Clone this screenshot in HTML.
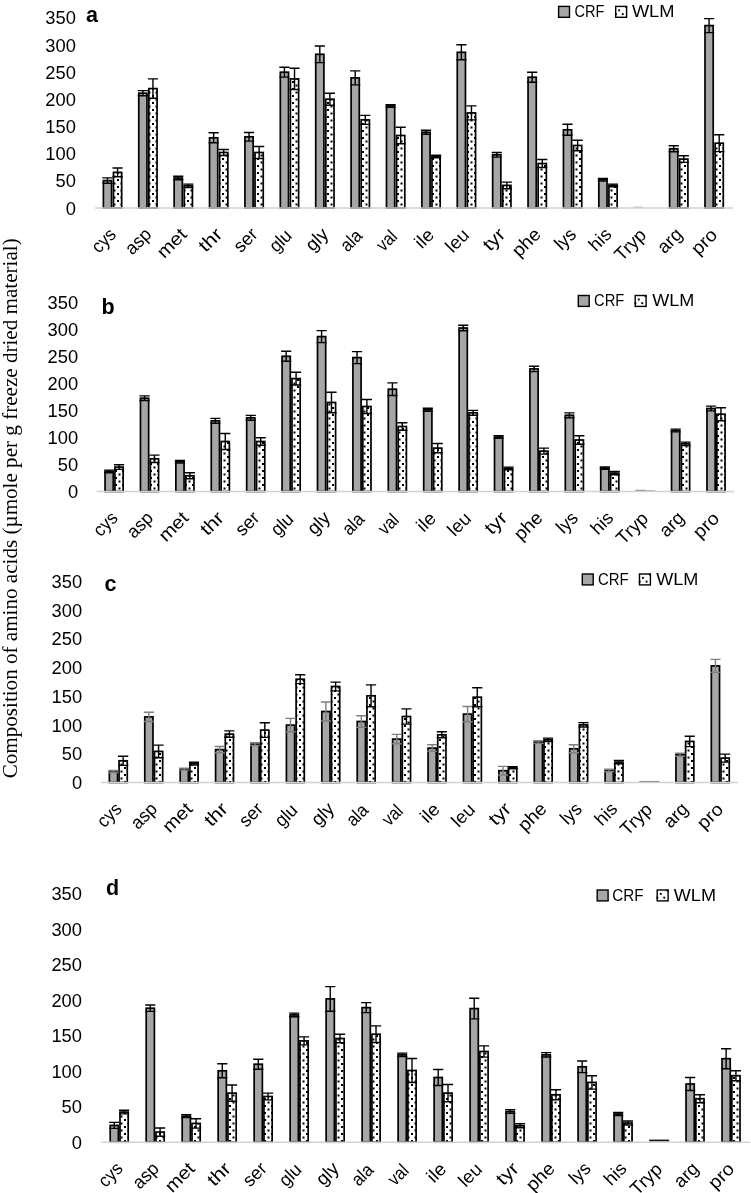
<!DOCTYPE html>
<html><head><meta charset="utf-8"><title>Amino acid composition</title>
<style>
html,body{margin:0;padding:0;background:#fff;}
svg{display:block;font-family:"Liberation Sans",sans-serif;fill:#000;}
svg{will-change:transform;filter:grayscale(1);}
</style></head><body>
<svg width="751" height="1193" viewBox="0 0 751 1193">
<defs>
<pattern id="dp-a" patternUnits="userSpaceOnUse" x="4" y="3" width="7" height="7"><rect width="7" height="7" fill="#fff"/><rect x="1" y="1" width="2" height="2" fill="#000"/><rect x="4.5" y="4.5" width="2" height="2" fill="#000"/></pattern>
<pattern id="dp-b" patternUnits="userSpaceOnUse" x="2" y="0" width="7" height="7"><rect width="7" height="7" fill="#fff"/><rect x="1" y="1" width="2" height="2" fill="#000"/><rect x="4.5" y="4.5" width="2" height="2" fill="#000"/></pattern>
<pattern id="dp-c" patternUnits="userSpaceOnUse" x="4" y="3" width="7" height="7"><rect width="7" height="7" fill="#fff"/><rect x="1" y="1" width="2" height="2" fill="#000"/><rect x="4.5" y="4.5" width="2" height="2" fill="#000"/></pattern>
<pattern id="dp-d" patternUnits="userSpaceOnUse" x="4" y="-2" width="7" height="7"><rect width="7" height="7" fill="#fff"/><rect x="1" y="1" width="2" height="2" fill="#000"/><rect x="4.5" y="4.5" width="2" height="2" fill="#000"/></pattern>
</defs>
<rect width="751" height="1193" fill="#fff"/>
<g id="panel-a"><text x="75.9" y="214.6" text-anchor="end" font-size="18.4" textLength="10.2" lengthAdjust="spacingAndGlyphs">0</text>
<text x="75.9" y="187.4" text-anchor="end" font-size="18.4" textLength="20.4" lengthAdjust="spacingAndGlyphs">50</text>
<text x="75.9" y="160.3" text-anchor="end" font-size="18.4" textLength="30.6" lengthAdjust="spacingAndGlyphs">100</text>
<text x="75.9" y="133.1" text-anchor="end" font-size="18.4" textLength="30.6" lengthAdjust="spacingAndGlyphs">150</text>
<text x="75.9" y="105.9" text-anchor="end" font-size="18.4" textLength="30.6" lengthAdjust="spacingAndGlyphs">200</text>
<text x="75.9" y="78.7" text-anchor="end" font-size="18.4" textLength="30.6" lengthAdjust="spacingAndGlyphs">250</text>
<text x="75.9" y="51.6" text-anchor="end" font-size="18.4" textLength="30.6" lengthAdjust="spacingAndGlyphs">300</text>
<text x="75.9" y="24.4" text-anchor="end" font-size="18.4" textLength="30.6" lengthAdjust="spacingAndGlyphs">350</text>
<text x="86.0" y="21.8" font-size="21.5" font-weight="bold">a</text>
<rect x="558.6" y="6.4" width="10.9" height="10.9" fill="#a6a6a6" stroke="#000" stroke-width="1.4"/>
<text x="574.5" y="17.2" font-size="17.3" textLength="29.9" lengthAdjust="spacingAndGlyphs">CRF</text>
<rect x="615.7" y="6.4" width="10.9" height="10.9" fill="#fff" stroke="#000" stroke-width="1.4"/>
<g fill="#000"><rect x="618.2" y="9.4" width="1.9" height="1.9"/><rect x="621.8" y="13.2" width="1.9" height="1.9"/><rect x="625.1" y="6.0" width="1.9" height="1.9"/><rect x="614.9" y="13.2" width="1.9" height="1.9"/></g>
<text x="631.9" y="17.2" font-size="17.3" textLength="42.6" lengthAdjust="spacingAndGlyphs">WLM</text>
<rect x="103.37" y="180.60" width="8.2" height="27.40" fill="#a6a6a6" stroke="#000" stroke-width="1.7"/>
<rect x="113.47" y="172.40" width="8.2" height="35.60" fill="url(#dp-a)" stroke="#000" stroke-width="1.7"/>
<path d="M107.47 177.90V183.30M102.37 177.90h10.2M102.37 183.30h10.2" stroke="#000" stroke-width="1.4" fill="none"/>
<path d="M117.57 168.00V176.80M112.47 168.00h10.2M112.47 176.80h10.2" stroke="#000" stroke-width="1.4" fill="none"/>
<rect x="138.76" y="93.20" width="8.2" height="114.80" fill="#a6a6a6" stroke="#000" stroke-width="1.7"/>
<rect x="148.86" y="88.60" width="8.2" height="119.40" fill="url(#dp-a)" stroke="#000" stroke-width="1.7"/>
<path d="M142.86 90.60V95.80M137.76 90.60h10.2M137.76 95.80h10.2" stroke="#000" stroke-width="1.4" fill="none"/>
<path d="M152.96 78.90V98.30M147.86 78.90h10.2M147.86 98.30h10.2" stroke="#000" stroke-width="1.4" fill="none"/>
<rect x="174.15" y="178.00" width="8.2" height="30.00" fill="#a6a6a6" stroke="#000" stroke-width="1.7"/>
<rect x="184.25" y="185.80" width="8.2" height="22.20" fill="url(#dp-a)" stroke="#000" stroke-width="1.7"/>
<path d="M178.25 176.30V179.70M173.15 176.30h10.2M173.15 179.70h10.2" stroke="#000" stroke-width="1.4" fill="none"/>
<path d="M188.35 184.10V187.50M183.25 184.10h10.2M183.25 187.50h10.2" stroke="#000" stroke-width="1.4" fill="none"/>
<rect x="209.54" y="137.80" width="8.2" height="70.20" fill="#a6a6a6" stroke="#000" stroke-width="1.7"/>
<rect x="219.64" y="152.50" width="8.2" height="55.50" fill="url(#dp-a)" stroke="#000" stroke-width="1.7"/>
<path d="M213.64 132.80V142.80M208.54 132.80h10.2M208.54 142.80h10.2" stroke="#000" stroke-width="1.4" fill="none"/>
<path d="M223.74 149.50V155.50M218.64 149.50h10.2M218.64 155.50h10.2" stroke="#000" stroke-width="1.4" fill="none"/>
<rect x="244.93" y="136.80" width="8.2" height="71.20" fill="#a6a6a6" stroke="#000" stroke-width="1.7"/>
<rect x="255.03" y="152.50" width="8.2" height="55.50" fill="url(#dp-a)" stroke="#000" stroke-width="1.7"/>
<path d="M249.03 132.50V141.10M243.93 132.50h10.2M243.93 141.10h10.2" stroke="#000" stroke-width="1.4" fill="none"/>
<path d="M259.13 146.50V158.50M254.03 146.50h10.2M254.03 158.50h10.2" stroke="#000" stroke-width="1.4" fill="none"/>
<rect x="280.32" y="72.20" width="8.2" height="135.80" fill="#a6a6a6" stroke="#000" stroke-width="1.7"/>
<rect x="290.42" y="78.90" width="8.2" height="129.10" fill="url(#dp-a)" stroke="#000" stroke-width="1.7"/>
<path d="M284.42 67.30V77.10M279.32 67.30h10.2M279.32 77.10h10.2" stroke="#000" stroke-width="1.4" fill="none"/>
<path d="M294.52 68.30V89.50M289.42 68.30h10.2M289.42 89.50h10.2" stroke="#000" stroke-width="1.4" fill="none"/>
<rect x="315.71" y="54.30" width="8.2" height="153.70" fill="#a6a6a6" stroke="#000" stroke-width="1.7"/>
<rect x="325.81" y="99.20" width="8.2" height="108.80" fill="url(#dp-a)" stroke="#000" stroke-width="1.7"/>
<path d="M319.81 46.00V62.60M314.71 46.00h10.2M314.71 62.60h10.2" stroke="#000" stroke-width="1.4" fill="none"/>
<path d="M329.91 93.20V105.20M324.81 93.20h10.2M324.81 105.20h10.2" stroke="#000" stroke-width="1.4" fill="none"/>
<rect x="351.10" y="77.90" width="8.2" height="130.10" fill="#a6a6a6" stroke="#000" stroke-width="1.7"/>
<rect x="361.20" y="119.90" width="8.2" height="88.10" fill="url(#dp-a)" stroke="#000" stroke-width="1.7"/>
<path d="M355.20 70.90V84.90M350.10 70.90h10.2M350.10 84.90h10.2" stroke="#000" stroke-width="1.4" fill="none"/>
<path d="M365.30 115.40V124.40M360.20 115.40h10.2M360.20 124.40h10.2" stroke="#000" stroke-width="1.4" fill="none"/>
<rect x="386.49" y="105.90" width="8.2" height="102.10" fill="#a6a6a6" stroke="#000" stroke-width="1.7"/>
<rect x="396.59" y="135.50" width="8.2" height="72.50" fill="url(#dp-a)" stroke="#000" stroke-width="1.7"/>
<path d="M390.59 104.60V107.20M385.49 104.60h10.2M385.49 107.20h10.2" stroke="#000" stroke-width="1.4" fill="none"/>
<path d="M400.69 127.20V143.80M395.59 127.20h10.2M395.59 143.80h10.2" stroke="#000" stroke-width="1.4" fill="none"/>
<rect x="421.88" y="132.20" width="8.2" height="75.80" fill="#a6a6a6" stroke="#000" stroke-width="1.7"/>
<rect x="431.98" y="156.50" width="8.2" height="51.50" fill="url(#dp-a)" stroke="#000" stroke-width="1.7"/>
<path d="M425.98 130.20V134.20M420.88 130.20h10.2M420.88 134.20h10.2" stroke="#000" stroke-width="1.4" fill="none"/>
<path d="M436.08 155.20V157.80M430.98 155.20h10.2M430.98 157.80h10.2" stroke="#000" stroke-width="1.4" fill="none"/>
<rect x="457.27" y="52.30" width="8.2" height="155.70" fill="#a6a6a6" stroke="#000" stroke-width="1.7"/>
<rect x="467.37" y="112.90" width="8.2" height="95.10" fill="url(#dp-a)" stroke="#000" stroke-width="1.7"/>
<path d="M461.37 44.80V59.80M456.27 44.80h10.2M456.27 59.80h10.2" stroke="#000" stroke-width="1.4" fill="none"/>
<path d="M471.47 105.90V119.90M466.37 105.90h10.2M466.37 119.90h10.2" stroke="#000" stroke-width="1.4" fill="none"/>
<rect x="492.66" y="154.80" width="8.2" height="53.20" fill="#a6a6a6" stroke="#000" stroke-width="1.7"/>
<rect x="502.76" y="185.40" width="8.2" height="22.60" fill="url(#dp-a)" stroke="#000" stroke-width="1.7"/>
<path d="M496.76 152.50V157.10M491.66 152.50h10.2M491.66 157.10h10.2" stroke="#000" stroke-width="1.4" fill="none"/>
<path d="M506.86 182.10V188.70M501.76 182.10h10.2M501.76 188.70h10.2" stroke="#000" stroke-width="1.4" fill="none"/>
<rect x="528.05" y="77.20" width="8.2" height="130.80" fill="#a6a6a6" stroke="#000" stroke-width="1.7"/>
<rect x="538.15" y="163.50" width="8.2" height="44.50" fill="url(#dp-a)" stroke="#000" stroke-width="1.7"/>
<path d="M532.15 72.20V82.20M527.05 72.20h10.2M527.05 82.20h10.2" stroke="#000" stroke-width="1.4" fill="none"/>
<path d="M542.25 159.50V167.50M537.15 159.50h10.2M537.15 167.50h10.2" stroke="#000" stroke-width="1.4" fill="none"/>
<rect x="563.44" y="129.80" width="8.2" height="78.20" fill="#a6a6a6" stroke="#000" stroke-width="1.7"/>
<rect x="573.54" y="145.50" width="8.2" height="62.50" fill="url(#dp-a)" stroke="#000" stroke-width="1.7"/>
<path d="M567.54 124.30V135.30M562.44 124.30h10.2M562.44 135.30h10.2" stroke="#000" stroke-width="1.4" fill="none"/>
<path d="M577.64 140.20V150.80M572.54 140.20h10.2M572.54 150.80h10.2" stroke="#000" stroke-width="1.4" fill="none"/>
<rect x="598.83" y="179.80" width="8.2" height="28.20" fill="#a6a6a6" stroke="#000" stroke-width="1.7"/>
<rect x="608.93" y="185.40" width="8.2" height="22.60" fill="url(#dp-a)" stroke="#000" stroke-width="1.7"/>
<path d="M602.93 178.50V181.10M597.83 178.50h10.2M597.83 181.10h10.2" stroke="#000" stroke-width="1.4" fill="none"/>
<path d="M613.03 184.10V186.70M607.93 184.10h10.2M607.93 186.70h10.2" stroke="#000" stroke-width="1.4" fill="none"/>
<line x1="633.4" x2="643.1" y1="207.2" y2="207.2" stroke="#9a9a9a" stroke-width="0.9"/>
<rect x="669.61" y="148.80" width="8.2" height="59.20" fill="#a6a6a6" stroke="#000" stroke-width="1.7"/>
<rect x="679.71" y="159.10" width="8.2" height="48.90" fill="url(#dp-a)" stroke="#000" stroke-width="1.7"/>
<path d="M673.71 145.80V151.80M668.61 145.80h10.2M668.61 151.80h10.2" stroke="#000" stroke-width="1.4" fill="none"/>
<path d="M683.81 155.80V162.40M678.71 155.80h10.2M678.71 162.40h10.2" stroke="#000" stroke-width="1.4" fill="none"/>
<rect x="705.00" y="25.60" width="8.2" height="182.40" fill="#a6a6a6" stroke="#000" stroke-width="1.7"/>
<rect x="715.10" y="143.20" width="8.2" height="64.80" fill="url(#dp-a)" stroke="#000" stroke-width="1.7"/>
<path d="M709.10 18.60V32.60M704.00 18.60h10.2M704.00 32.60h10.2" stroke="#000" stroke-width="1.4" fill="none"/>
<path d="M719.20 134.80V151.60M714.10 134.80h10.2M714.10 151.60h10.2" stroke="#000" stroke-width="1.4" fill="none"/>
<line x1="95.0" x2="733.0" y1="208.0" y2="208.0" stroke="#d2d2d2" stroke-width="1.5"/>
<text transform="translate(117.2 235.5) rotate(-45)" text-anchor="end" font-size="18.4" textLength="26.1" lengthAdjust="spacingAndGlyphs">cys</text>
<text transform="translate(152.6 235.5) rotate(-45)" text-anchor="end" font-size="18.4" textLength="28.7" lengthAdjust="spacingAndGlyphs">asp</text>
<text transform="translate(188.0 235.5) rotate(-45)" text-anchor="end" font-size="18.4" textLength="33.6" lengthAdjust="spacingAndGlyphs">met</text>
<text transform="translate(223.4 235.5) rotate(-45)" text-anchor="end" font-size="18.4" textLength="24.9" lengthAdjust="spacingAndGlyphs">thr</text>
<text transform="translate(258.8 235.5) rotate(-45)" text-anchor="end" font-size="18.4" textLength="25.5" lengthAdjust="spacingAndGlyphs">ser</text>
<text transform="translate(293.0 236.7) rotate(-45)" text-anchor="end" font-size="18.4" textLength="23.5" lengthAdjust="spacingAndGlyphs">glu</text>
<text transform="translate(329.6 235.5) rotate(-45)" text-anchor="end" font-size="18.4" textLength="23.8" lengthAdjust="spacingAndGlyphs">gly</text>
<text transform="translate(363.5 236.9) rotate(-45)" text-anchor="end" font-size="18.4" textLength="22.5" lengthAdjust="spacingAndGlyphs">ala</text>
<text transform="translate(398.2 237.6) rotate(-45)" text-anchor="end" font-size="18.4" textLength="20.9" lengthAdjust="spacingAndGlyphs">val</text>
<text transform="translate(435.2 236.0) rotate(-45)" text-anchor="end" font-size="18.4" textLength="19.0" lengthAdjust="spacingAndGlyphs">ile</text>
<text transform="translate(470.4 236.2) rotate(-45)" text-anchor="end" font-size="18.4" textLength="24.8" lengthAdjust="spacingAndGlyphs">leu</text>
<text transform="translate(506.5 235.5) rotate(-45)" text-anchor="end" font-size="18.4" textLength="23.4" lengthAdjust="spacingAndGlyphs">tyr</text>
<text transform="translate(541.9 235.5) rotate(-45)" text-anchor="end" font-size="18.4" textLength="31.9" lengthAdjust="spacingAndGlyphs">phe</text>
<text transform="translate(577.3 235.5) rotate(-45)" text-anchor="end" font-size="18.4" textLength="22.1" lengthAdjust="spacingAndGlyphs">lys</text>
<text transform="translate(612.7 235.5) rotate(-45)" text-anchor="end" font-size="18.4" textLength="23.6" lengthAdjust="spacingAndGlyphs">his</text>
<text transform="translate(647.4 236.2) rotate(-45)" text-anchor="end" font-size="18.4" textLength="36.4" lengthAdjust="spacingAndGlyphs">Tryp</text>
<text transform="translate(683.5 235.5) rotate(-45)" text-anchor="end" font-size="18.4" textLength="26.8" lengthAdjust="spacingAndGlyphs">arg</text>
<text transform="translate(718.4 236.0) rotate(-45)" text-anchor="end" font-size="18.4" textLength="28.2" lengthAdjust="spacingAndGlyphs">pro</text></g>
<g id="panel-b"><text x="78.1" y="498.1" text-anchor="end" font-size="18.4" textLength="10.2" lengthAdjust="spacingAndGlyphs">0</text>
<text x="78.1" y="471.1" text-anchor="end" font-size="18.4" textLength="20.4" lengthAdjust="spacingAndGlyphs">50</text>
<text x="78.1" y="444.2" text-anchor="end" font-size="18.4" textLength="30.6" lengthAdjust="spacingAndGlyphs">100</text>
<text x="78.1" y="417.2" text-anchor="end" font-size="18.4" textLength="30.6" lengthAdjust="spacingAndGlyphs">150</text>
<text x="78.1" y="390.3" text-anchor="end" font-size="18.4" textLength="30.6" lengthAdjust="spacingAndGlyphs">200</text>
<text x="78.1" y="363.3" text-anchor="end" font-size="18.4" textLength="30.6" lengthAdjust="spacingAndGlyphs">250</text>
<text x="78.1" y="336.3" text-anchor="end" font-size="18.4" textLength="30.6" lengthAdjust="spacingAndGlyphs">300</text>
<text x="78.1" y="309.4" text-anchor="end" font-size="18.4" textLength="30.6" lengthAdjust="spacingAndGlyphs">350</text>
<text x="101.5" y="314.1" font-size="21.5" font-weight="bold">b</text>
<rect x="578.3" y="295.5" width="10.9" height="10.9" fill="#a6a6a6" stroke="#000" stroke-width="1.4"/>
<text x="594.0" y="306.2" font-size="17.3" textLength="30.3" lengthAdjust="spacingAndGlyphs">CRF</text>
<rect x="635.2" y="295.5" width="10.9" height="10.9" fill="#fff" stroke="#000" stroke-width="1.4"/>
<g fill="#000"><rect x="637.8" y="298.5" width="1.9" height="1.9"/><rect x="641.3" y="302.2" width="1.9" height="1.9"/><rect x="644.6" y="295.2" width="1.9" height="1.9"/><rect x="634.4" y="302.2" width="1.9" height="1.9"/></g>
<text x="652.2" y="306.2" font-size="17.3" textLength="42.1" lengthAdjust="spacingAndGlyphs">WLM</text>
<rect x="105.05" y="471.40" width="8.2" height="20.10" fill="#a6a6a6" stroke="#000" stroke-width="1.7"/>
<rect x="114.95" y="467.10" width="8.2" height="24.40" fill="url(#dp-b)" stroke="#000" stroke-width="1.7"/>
<path d="M109.15 470.10V472.70M104.05 470.10h10.2M104.05 472.70h10.2" stroke="#000" stroke-width="1.4" fill="none"/>
<path d="M119.05 464.80V469.40M113.95 464.80h10.2M113.95 469.40h10.2" stroke="#000" stroke-width="1.4" fill="none"/>
<rect x="140.46" y="398.20" width="8.2" height="93.30" fill="#a6a6a6" stroke="#000" stroke-width="1.7"/>
<rect x="150.36" y="458.80" width="8.2" height="32.70" fill="url(#dp-b)" stroke="#000" stroke-width="1.7"/>
<path d="M144.56 395.90V400.50M139.46 395.90h10.2M139.46 400.50h10.2" stroke="#000" stroke-width="1.4" fill="none"/>
<path d="M154.46 455.10V462.50M149.36 455.10h10.2M149.36 462.50h10.2" stroke="#000" stroke-width="1.4" fill="none"/>
<rect x="175.86" y="461.80" width="8.2" height="29.70" fill="#a6a6a6" stroke="#000" stroke-width="1.7"/>
<rect x="185.76" y="475.80" width="8.2" height="15.70" fill="url(#dp-b)" stroke="#000" stroke-width="1.7"/>
<path d="M179.96 460.50V463.10M174.86 460.50h10.2M174.86 463.10h10.2" stroke="#000" stroke-width="1.4" fill="none"/>
<path d="M189.86 472.80V478.80M184.76 472.80h10.2M184.76 478.80h10.2" stroke="#000" stroke-width="1.4" fill="none"/>
<rect x="211.27" y="420.80" width="8.2" height="70.70" fill="#a6a6a6" stroke="#000" stroke-width="1.7"/>
<rect x="221.17" y="441.50" width="8.2" height="50.00" fill="url(#dp-b)" stroke="#000" stroke-width="1.7"/>
<path d="M215.37 418.40V423.20M210.27 418.40h10.2M210.27 423.20h10.2" stroke="#000" stroke-width="1.4" fill="none"/>
<path d="M225.27 433.50V449.50M220.17 433.50h10.2M220.17 449.50h10.2" stroke="#000" stroke-width="1.4" fill="none"/>
<rect x="246.67" y="417.80" width="8.2" height="73.70" fill="#a6a6a6" stroke="#000" stroke-width="1.7"/>
<rect x="256.57" y="441.50" width="8.2" height="50.00" fill="url(#dp-b)" stroke="#000" stroke-width="1.7"/>
<path d="M250.77 415.40V420.20M245.67 415.40h10.2M245.67 420.20h10.2" stroke="#000" stroke-width="1.4" fill="none"/>
<path d="M260.68 437.80V445.20M255.58 437.80h10.2M255.58 445.20h10.2" stroke="#000" stroke-width="1.4" fill="none"/>
<rect x="282.08" y="356.30" width="8.2" height="135.20" fill="#a6a6a6" stroke="#000" stroke-width="1.7"/>
<rect x="291.98" y="378.60" width="8.2" height="112.90" fill="url(#dp-b)" stroke="#000" stroke-width="1.7"/>
<path d="M286.18 351.30V361.30M281.08 351.30h10.2M281.08 361.30h10.2" stroke="#000" stroke-width="1.4" fill="none"/>
<path d="M296.08 372.20V385.00M290.98 372.20h10.2M290.98 385.00h10.2" stroke="#000" stroke-width="1.4" fill="none"/>
<rect x="317.49" y="336.60" width="8.2" height="154.90" fill="#a6a6a6" stroke="#000" stroke-width="1.7"/>
<rect x="327.39" y="402.50" width="8.2" height="89.00" fill="url(#dp-b)" stroke="#000" stroke-width="1.7"/>
<path d="M321.59 330.60V342.60M316.49 330.60h10.2M316.49 342.60h10.2" stroke="#000" stroke-width="1.4" fill="none"/>
<path d="M331.49 392.20V412.80M326.39 392.20h10.2M326.39 412.80h10.2" stroke="#000" stroke-width="1.4" fill="none"/>
<rect x="352.89" y="357.60" width="8.2" height="133.90" fill="#a6a6a6" stroke="#000" stroke-width="1.7"/>
<rect x="362.79" y="406.50" width="8.2" height="85.00" fill="url(#dp-b)" stroke="#000" stroke-width="1.7"/>
<path d="M356.99 351.60V363.60M351.89 351.60h10.2M351.89 363.60h10.2" stroke="#000" stroke-width="1.4" fill="none"/>
<path d="M366.89 399.50V413.50M361.79 399.50h10.2M361.79 413.50h10.2" stroke="#000" stroke-width="1.4" fill="none"/>
<rect x="388.30" y="389.20" width="8.2" height="102.30" fill="#a6a6a6" stroke="#000" stroke-width="1.7"/>
<rect x="398.20" y="426.50" width="8.2" height="65.00" fill="url(#dp-b)" stroke="#000" stroke-width="1.7"/>
<path d="M392.40 382.90V395.50M387.30 382.90h10.2M387.30 395.50h10.2" stroke="#000" stroke-width="1.4" fill="none"/>
<path d="M402.30 422.80V430.20M397.20 422.80h10.2M397.20 430.20h10.2" stroke="#000" stroke-width="1.4" fill="none"/>
<rect x="423.70" y="409.80" width="8.2" height="81.70" fill="#a6a6a6" stroke="#000" stroke-width="1.7"/>
<rect x="433.60" y="448.10" width="8.2" height="43.40" fill="url(#dp-b)" stroke="#000" stroke-width="1.7"/>
<path d="M427.80 408.30V411.30M422.70 408.30h10.2M422.70 411.30h10.2" stroke="#000" stroke-width="1.4" fill="none"/>
<path d="M437.70 443.50V452.70M432.60 443.50h10.2M432.60 452.70h10.2" stroke="#000" stroke-width="1.4" fill="none"/>
<rect x="459.11" y="328.00" width="8.2" height="163.50" fill="#a6a6a6" stroke="#000" stroke-width="1.7"/>
<rect x="469.01" y="412.80" width="8.2" height="78.70" fill="url(#dp-b)" stroke="#000" stroke-width="1.7"/>
<path d="M463.21 325.30V330.70M458.11 325.30h10.2M458.11 330.70h10.2" stroke="#000" stroke-width="1.4" fill="none"/>
<path d="M473.11 410.40V415.20M468.01 410.40h10.2M468.01 415.20h10.2" stroke="#000" stroke-width="1.4" fill="none"/>
<rect x="494.51" y="437.10" width="8.2" height="54.40" fill="#a6a6a6" stroke="#000" stroke-width="1.7"/>
<rect x="504.41" y="468.40" width="8.2" height="23.10" fill="url(#dp-b)" stroke="#000" stroke-width="1.7"/>
<path d="M498.61 435.80V438.40M493.51 435.80h10.2M493.51 438.40h10.2" stroke="#000" stroke-width="1.4" fill="none"/>
<path d="M508.51 467.10V469.70M503.41 467.10h10.2M503.41 469.70h10.2" stroke="#000" stroke-width="1.4" fill="none"/>
<rect x="529.92" y="368.90" width="8.2" height="122.60" fill="#a6a6a6" stroke="#000" stroke-width="1.7"/>
<rect x="539.82" y="451.10" width="8.2" height="40.40" fill="url(#dp-b)" stroke="#000" stroke-width="1.7"/>
<path d="M534.02 366.20V371.60M528.92 366.20h10.2M528.92 371.60h10.2" stroke="#000" stroke-width="1.4" fill="none"/>
<path d="M543.92 448.10V454.10M538.82 448.10h10.2M538.82 454.10h10.2" stroke="#000" stroke-width="1.4" fill="none"/>
<rect x="565.32" y="415.30" width="8.2" height="76.20" fill="#a6a6a6" stroke="#000" stroke-width="1.7"/>
<rect x="575.22" y="440.00" width="8.2" height="51.50" fill="url(#dp-b)" stroke="#000" stroke-width="1.7"/>
<path d="M569.42 412.90V417.70M564.32 412.90h10.2M564.32 417.70h10.2" stroke="#000" stroke-width="1.4" fill="none"/>
<path d="M579.32 435.80V444.20M574.22 435.80h10.2M574.22 444.20h10.2" stroke="#000" stroke-width="1.4" fill="none"/>
<rect x="600.73" y="468.10" width="8.2" height="23.40" fill="#a6a6a6" stroke="#000" stroke-width="1.7"/>
<rect x="610.63" y="473.10" width="8.2" height="18.40" fill="url(#dp-b)" stroke="#000" stroke-width="1.7"/>
<path d="M604.83 467.00V469.20M599.73 467.00h10.2M599.73 469.20h10.2" stroke="#000" stroke-width="1.4" fill="none"/>
<path d="M614.73 471.50V474.70M609.63 471.50h10.2M609.63 474.70h10.2" stroke="#000" stroke-width="1.4" fill="none"/>
<line x1="635.3" x2="645.2" y1="490.3" y2="490.3" stroke="#707070" stroke-width="1"/>
<line x1="645.2" x2="655.3" y1="490.6" y2="490.6" stroke="#a8a8a8" stroke-width="1"/>
<rect x="671.54" y="430.50" width="8.2" height="61.00" fill="#a6a6a6" stroke="#000" stroke-width="1.7"/>
<rect x="681.44" y="443.80" width="8.2" height="47.70" fill="url(#dp-b)" stroke="#000" stroke-width="1.7"/>
<path d="M675.64 429.10V431.90M670.54 429.10h10.2M670.54 431.90h10.2" stroke="#000" stroke-width="1.4" fill="none"/>
<path d="M685.54 442.10V445.50M680.44 442.10h10.2M680.44 445.50h10.2" stroke="#000" stroke-width="1.4" fill="none"/>
<rect x="706.95" y="408.50" width="8.2" height="83.00" fill="#a6a6a6" stroke="#000" stroke-width="1.7"/>
<rect x="716.85" y="414.20" width="8.2" height="77.30" fill="url(#dp-b)" stroke="#000" stroke-width="1.7"/>
<path d="M711.05 406.10V410.90M705.95 406.10h10.2M705.95 410.90h10.2" stroke="#000" stroke-width="1.4" fill="none"/>
<path d="M720.95 407.70V420.70M715.85 407.70h10.2M715.85 420.70h10.2" stroke="#000" stroke-width="1.4" fill="none"/>
<line x1="96.7" x2="734.0" y1="491.5" y2="491.5" stroke="#d2d2d2" stroke-width="1.5"/>
<text transform="translate(118.9 519.0) rotate(-45)" text-anchor="end" font-size="18.4" textLength="26.1" lengthAdjust="spacingAndGlyphs">cys</text>
<text transform="translate(154.3 519.0) rotate(-45)" text-anchor="end" font-size="18.4" textLength="28.7" lengthAdjust="spacingAndGlyphs">asp</text>
<text transform="translate(189.7 519.0) rotate(-45)" text-anchor="end" font-size="18.4" textLength="33.6" lengthAdjust="spacingAndGlyphs">met</text>
<text transform="translate(225.1 519.0) rotate(-45)" text-anchor="end" font-size="18.4" textLength="24.9" lengthAdjust="spacingAndGlyphs">thr</text>
<text transform="translate(260.5 519.0) rotate(-45)" text-anchor="end" font-size="18.4" textLength="25.5" lengthAdjust="spacingAndGlyphs">ser</text>
<text transform="translate(294.7 520.2) rotate(-45)" text-anchor="end" font-size="18.4" textLength="23.5" lengthAdjust="spacingAndGlyphs">glu</text>
<text transform="translate(331.3 519.0) rotate(-45)" text-anchor="end" font-size="18.4" textLength="23.8" lengthAdjust="spacingAndGlyphs">gly</text>
<text transform="translate(365.3 520.4) rotate(-45)" text-anchor="end" font-size="18.4" textLength="22.5" lengthAdjust="spacingAndGlyphs">ala</text>
<text transform="translate(400.0 521.1) rotate(-45)" text-anchor="end" font-size="18.4" textLength="20.9" lengthAdjust="spacingAndGlyphs">val</text>
<text transform="translate(437.1 519.5) rotate(-45)" text-anchor="end" font-size="18.4" textLength="19.0" lengthAdjust="spacingAndGlyphs">ile</text>
<text transform="translate(472.3 519.7) rotate(-45)" text-anchor="end" font-size="18.4" textLength="24.8" lengthAdjust="spacingAndGlyphs">leu</text>
<text transform="translate(508.4 519.0) rotate(-45)" text-anchor="end" font-size="18.4" textLength="23.4" lengthAdjust="spacingAndGlyphs">tyr</text>
<text transform="translate(543.8 519.0) rotate(-45)" text-anchor="end" font-size="18.4" textLength="31.9" lengthAdjust="spacingAndGlyphs">phe</text>
<text transform="translate(579.2 519.0) rotate(-45)" text-anchor="end" font-size="18.4" textLength="22.1" lengthAdjust="spacingAndGlyphs">lys</text>
<text transform="translate(614.6 519.0) rotate(-45)" text-anchor="end" font-size="18.4" textLength="23.6" lengthAdjust="spacingAndGlyphs">his</text>
<text transform="translate(649.3 519.7) rotate(-45)" text-anchor="end" font-size="18.4" textLength="36.4" lengthAdjust="spacingAndGlyphs">Tryp</text>
<text transform="translate(685.4 519.0) rotate(-45)" text-anchor="end" font-size="18.4" textLength="26.8" lengthAdjust="spacingAndGlyphs">arg</text>
<text transform="translate(720.3 519.5) rotate(-45)" text-anchor="end" font-size="18.4" textLength="28.2" lengthAdjust="spacingAndGlyphs">pro</text></g>
<g id="panel-c"><text x="82.1" y="789.1" text-anchor="end" font-size="18.4" textLength="10.2" lengthAdjust="spacingAndGlyphs">0</text>
<text x="82.1" y="760.4" text-anchor="end" font-size="18.4" textLength="20.4" lengthAdjust="spacingAndGlyphs">50</text>
<text x="82.1" y="731.6" text-anchor="end" font-size="18.4" textLength="30.6" lengthAdjust="spacingAndGlyphs">100</text>
<text x="82.1" y="702.9" text-anchor="end" font-size="18.4" textLength="30.6" lengthAdjust="spacingAndGlyphs">150</text>
<text x="82.1" y="674.1" text-anchor="end" font-size="18.4" textLength="30.6" lengthAdjust="spacingAndGlyphs">200</text>
<text x="82.1" y="645.4" text-anchor="end" font-size="18.4" textLength="30.6" lengthAdjust="spacingAndGlyphs">250</text>
<text x="82.1" y="616.6" text-anchor="end" font-size="18.4" textLength="30.6" lengthAdjust="spacingAndGlyphs">300</text>
<text x="82.1" y="587.9" text-anchor="end" font-size="18.4" textLength="30.6" lengthAdjust="spacingAndGlyphs">350</text>
<text x="104.5" y="590.6" font-size="21.5" font-weight="bold">c</text>
<rect x="582.3" y="574.0" width="10.9" height="10.9" fill="#a6a6a6" stroke="#000" stroke-width="1.4"/>
<text x="598.0" y="584.8" font-size="17.3" textLength="30.7" lengthAdjust="spacingAndGlyphs">CRF</text>
<rect x="639.5" y="574.0" width="10.9" height="10.9" fill="#fff" stroke="#000" stroke-width="1.4"/>
<g fill="#000"><rect x="642.0" y="576.9" width="1.9" height="1.9"/><rect x="645.6" y="580.7" width="1.9" height="1.9"/><rect x="648.9" y="573.6" width="1.9" height="1.9"/><rect x="638.7" y="580.7" width="1.9" height="1.9"/></g>
<text x="656.2" y="584.8" font-size="17.3" textLength="42.2" lengthAdjust="spacingAndGlyphs">WLM</text>
<rect x="109.36" y="771.50" width="8.2" height="11.00" fill="#a6a6a6" stroke="#000" stroke-width="1.7"/>
<rect x="119.06" y="760.80" width="8.2" height="21.70" fill="url(#dp-c)" stroke="#000" stroke-width="1.7"/>
<path d="M113.46 770.50V772.50M108.36 770.50h10.2M108.36 772.50h10.2" stroke="#7f7f7f" stroke-width="1.4" fill="none"/>
<path d="M123.16 756.20V765.40M118.06 756.20h10.2M118.06 765.40h10.2" stroke="#000" stroke-width="1.4" fill="none"/>
<rect x="144.77" y="716.90" width="8.2" height="65.60" fill="#a6a6a6" stroke="#000" stroke-width="1.7"/>
<rect x="154.47" y="751.40" width="8.2" height="31.10" fill="url(#dp-c)" stroke="#000" stroke-width="1.7"/>
<path d="M148.87 712.30V721.50M143.77 712.30h10.2M143.77 721.50h10.2" stroke="#7f7f7f" stroke-width="1.4" fill="none"/>
<path d="M158.57 745.10V757.70M153.47 745.10h10.2M153.47 757.70h10.2" stroke="#000" stroke-width="1.4" fill="none"/>
<rect x="180.18" y="769.10" width="8.2" height="13.40" fill="#a6a6a6" stroke="#000" stroke-width="1.7"/>
<rect x="189.88" y="763.70" width="8.2" height="18.80" fill="url(#dp-c)" stroke="#000" stroke-width="1.7"/>
<path d="M184.28 768.10V770.10M179.18 768.10h10.2M179.18 770.10h10.2" stroke="#7f7f7f" stroke-width="1.4" fill="none"/>
<path d="M193.98 762.30V765.10M188.88 762.30h10.2M188.88 765.10h10.2" stroke="#000" stroke-width="1.4" fill="none"/>
<rect x="215.59" y="749.60" width="8.2" height="32.90" fill="#a6a6a6" stroke="#000" stroke-width="1.7"/>
<rect x="225.29" y="734.10" width="8.2" height="48.40" fill="url(#dp-c)" stroke="#000" stroke-width="1.7"/>
<path d="M219.69 746.50V752.70M214.59 746.50h10.2M214.59 752.70h10.2" stroke="#7f7f7f" stroke-width="1.4" fill="none"/>
<path d="M229.39 730.90V737.30M224.29 730.90h10.2M224.29 737.30h10.2" stroke="#000" stroke-width="1.4" fill="none"/>
<rect x="251.00" y="744.10" width="8.2" height="38.40" fill="#a6a6a6" stroke="#000" stroke-width="1.7"/>
<rect x="260.70" y="730.10" width="8.2" height="52.40" fill="url(#dp-c)" stroke="#000" stroke-width="1.7"/>
<path d="M255.10 742.80V745.40M250.00 742.80h10.2M250.00 745.40h10.2" stroke="#7f7f7f" stroke-width="1.4" fill="none"/>
<path d="M264.80 722.80V737.40M259.70 722.80h10.2M259.70 737.40h10.2" stroke="#000" stroke-width="1.4" fill="none"/>
<rect x="286.41" y="725.10" width="8.2" height="57.40" fill="#a6a6a6" stroke="#000" stroke-width="1.7"/>
<rect x="296.11" y="679.20" width="8.2" height="103.30" fill="url(#dp-c)" stroke="#000" stroke-width="1.7"/>
<path d="M290.51 718.40V731.80M285.41 718.40h10.2M285.41 731.80h10.2" stroke="#7f7f7f" stroke-width="1.4" fill="none"/>
<path d="M300.21 674.80V683.60M295.11 674.80h10.2M295.11 683.60h10.2" stroke="#000" stroke-width="1.4" fill="none"/>
<rect x="321.82" y="711.50" width="8.2" height="71.00" fill="#a6a6a6" stroke="#000" stroke-width="1.7"/>
<rect x="331.52" y="686.50" width="8.2" height="96.00" fill="url(#dp-c)" stroke="#000" stroke-width="1.7"/>
<path d="M325.92 702.00V721.00M320.82 702.00h10.2M320.82 721.00h10.2" stroke="#7f7f7f" stroke-width="1.4" fill="none"/>
<path d="M335.62 682.10V690.90M330.52 682.10h10.2M330.52 690.90h10.2" stroke="#000" stroke-width="1.4" fill="none"/>
<rect x="357.23" y="721.50" width="8.2" height="61.00" fill="#a6a6a6" stroke="#000" stroke-width="1.7"/>
<rect x="366.93" y="695.80" width="8.2" height="86.70" fill="url(#dp-c)" stroke="#000" stroke-width="1.7"/>
<path d="M361.33 715.80V727.20M356.23 715.80h10.2M356.23 727.20h10.2" stroke="#7f7f7f" stroke-width="1.4" fill="none"/>
<path d="M371.03 684.90V706.70M365.93 684.90h10.2M365.93 706.70h10.2" stroke="#000" stroke-width="1.4" fill="none"/>
<rect x="392.64" y="739.10" width="8.2" height="43.40" fill="#a6a6a6" stroke="#000" stroke-width="1.7"/>
<rect x="402.34" y="716.50" width="8.2" height="66.00" fill="url(#dp-c)" stroke="#000" stroke-width="1.7"/>
<path d="M396.74 734.40V743.80M391.64 734.40h10.2M391.64 743.80h10.2" stroke="#7f7f7f" stroke-width="1.4" fill="none"/>
<path d="M406.44 708.90V724.10M401.34 708.90h10.2M401.34 724.10h10.2" stroke="#000" stroke-width="1.4" fill="none"/>
<rect x="428.06" y="748.10" width="8.2" height="34.40" fill="#a6a6a6" stroke="#000" stroke-width="1.7"/>
<rect x="437.76" y="734.80" width="8.2" height="47.70" fill="url(#dp-c)" stroke="#000" stroke-width="1.7"/>
<path d="M432.16 744.80V751.40M427.06 744.80h10.2M427.06 751.40h10.2" stroke="#7f7f7f" stroke-width="1.4" fill="none"/>
<path d="M441.86 731.80V737.80M436.76 731.80h10.2M436.76 737.80h10.2" stroke="#000" stroke-width="1.4" fill="none"/>
<rect x="463.47" y="714.10" width="8.2" height="68.40" fill="#a6a6a6" stroke="#000" stroke-width="1.7"/>
<rect x="473.17" y="697.20" width="8.2" height="85.30" fill="url(#dp-c)" stroke="#000" stroke-width="1.7"/>
<path d="M467.57 706.50V721.70M462.47 706.50h10.2M462.47 721.70h10.2" stroke="#7f7f7f" stroke-width="1.4" fill="none"/>
<path d="M477.27 687.70V706.70M472.17 687.70h10.2M472.17 706.70h10.2" stroke="#000" stroke-width="1.4" fill="none"/>
<rect x="498.88" y="770.70" width="8.2" height="11.80" fill="#a6a6a6" stroke="#000" stroke-width="1.7"/>
<rect x="508.58" y="767.70" width="8.2" height="14.80" fill="url(#dp-c)" stroke="#000" stroke-width="1.7"/>
<path d="M502.98 766.40V775.00M497.88 766.40h10.2M497.88 775.00h10.2" stroke="#7f7f7f" stroke-width="1.4" fill="none"/>
<path d="M512.68 766.60V768.80M507.58 766.60h10.2M507.58 768.80h10.2" stroke="#000" stroke-width="1.4" fill="none"/>
<rect x="534.29" y="742.10" width="8.2" height="40.40" fill="#a6a6a6" stroke="#000" stroke-width="1.7"/>
<rect x="543.99" y="739.80" width="8.2" height="42.70" fill="url(#dp-c)" stroke="#000" stroke-width="1.7"/>
<path d="M538.39 740.80V743.40M533.29 740.80h10.2M533.29 743.40h10.2" stroke="#7f7f7f" stroke-width="1.4" fill="none"/>
<path d="M548.09 738.10V741.50M542.99 738.10h10.2M542.99 741.50h10.2" stroke="#000" stroke-width="1.4" fill="none"/>
<rect x="569.70" y="748.80" width="8.2" height="33.70" fill="#a6a6a6" stroke="#000" stroke-width="1.7"/>
<rect x="579.40" y="724.80" width="8.2" height="57.70" fill="url(#dp-c)" stroke="#000" stroke-width="1.7"/>
<path d="M573.80 744.80V752.80M568.70 744.80h10.2M568.70 752.80h10.2" stroke="#7f7f7f" stroke-width="1.4" fill="none"/>
<path d="M583.50 722.60V727.00M578.40 722.60h10.2M578.40 727.00h10.2" stroke="#000" stroke-width="1.4" fill="none"/>
<rect x="605.11" y="770.40" width="8.2" height="12.10" fill="#a6a6a6" stroke="#000" stroke-width="1.7"/>
<rect x="614.81" y="762.10" width="8.2" height="20.40" fill="url(#dp-c)" stroke="#000" stroke-width="1.7"/>
<path d="M609.21 769.30V771.50M604.11 769.30h10.2M604.11 771.50h10.2" stroke="#7f7f7f" stroke-width="1.4" fill="none"/>
<path d="M618.91 760.40V763.80M613.81 760.40h10.2M613.81 763.80h10.2" stroke="#000" stroke-width="1.4" fill="none"/>
<line x1="639.3" x2="659.5" y1="781.5" y2="781.5" stroke="#7a7a7a" stroke-width="1.1"/>
<rect x="675.93" y="754.70" width="8.2" height="27.80" fill="#a6a6a6" stroke="#000" stroke-width="1.7"/>
<rect x="685.63" y="741.40" width="8.2" height="41.10" fill="url(#dp-c)" stroke="#000" stroke-width="1.7"/>
<path d="M680.03 753.20V756.20M674.93 753.20h10.2M674.93 756.20h10.2" stroke="#7f7f7f" stroke-width="1.4" fill="none"/>
<path d="M689.73 736.20V746.60M684.63 736.20h10.2M684.63 746.60h10.2" stroke="#000" stroke-width="1.4" fill="none"/>
<rect x="711.34" y="665.90" width="8.2" height="116.60" fill="#a6a6a6" stroke="#000" stroke-width="1.7"/>
<rect x="721.04" y="758.10" width="8.2" height="24.40" fill="url(#dp-c)" stroke="#000" stroke-width="1.7"/>
<path d="M715.44 659.40V672.40M710.34 659.40h10.2M710.34 672.40h10.2" stroke="#7f7f7f" stroke-width="1.4" fill="none"/>
<path d="M725.14 754.10V762.10M720.04 754.10h10.2M720.04 762.10h10.2" stroke="#000" stroke-width="1.4" fill="none"/>
<line x1="100.6" x2="738.0" y1="782.5" y2="782.5" stroke="#d2d2d2" stroke-width="1.5"/>
<text transform="translate(122.8 810.0) rotate(-45)" text-anchor="end" font-size="18.4" textLength="26.1" lengthAdjust="spacingAndGlyphs">cys</text>
<text transform="translate(158.2 810.0) rotate(-45)" text-anchor="end" font-size="18.4" textLength="28.7" lengthAdjust="spacingAndGlyphs">asp</text>
<text transform="translate(193.6 810.0) rotate(-45)" text-anchor="end" font-size="18.4" textLength="33.6" lengthAdjust="spacingAndGlyphs">met</text>
<text transform="translate(229.0 810.0) rotate(-45)" text-anchor="end" font-size="18.4" textLength="24.9" lengthAdjust="spacingAndGlyphs">thr</text>
<text transform="translate(264.4 810.0) rotate(-45)" text-anchor="end" font-size="18.4" textLength="25.5" lengthAdjust="spacingAndGlyphs">ser</text>
<text transform="translate(298.7 811.2) rotate(-45)" text-anchor="end" font-size="18.4" textLength="23.5" lengthAdjust="spacingAndGlyphs">glu</text>
<text transform="translate(335.3 810.0) rotate(-45)" text-anchor="end" font-size="18.4" textLength="23.8" lengthAdjust="spacingAndGlyphs">gly</text>
<text transform="translate(369.3 811.4) rotate(-45)" text-anchor="end" font-size="18.4" textLength="22.5" lengthAdjust="spacingAndGlyphs">ala</text>
<text transform="translate(404.0 812.1) rotate(-45)" text-anchor="end" font-size="18.4" textLength="20.9" lengthAdjust="spacingAndGlyphs">val</text>
<text transform="translate(441.0 810.5) rotate(-45)" text-anchor="end" font-size="18.4" textLength="19.0" lengthAdjust="spacingAndGlyphs">ile</text>
<text transform="translate(476.2 810.7) rotate(-45)" text-anchor="end" font-size="18.4" textLength="24.8" lengthAdjust="spacingAndGlyphs">leu</text>
<text transform="translate(512.3 810.0) rotate(-45)" text-anchor="end" font-size="18.4" textLength="23.4" lengthAdjust="spacingAndGlyphs">tyr</text>
<text transform="translate(547.7 810.0) rotate(-45)" text-anchor="end" font-size="18.4" textLength="31.9" lengthAdjust="spacingAndGlyphs">phe</text>
<text transform="translate(583.1 810.0) rotate(-45)" text-anchor="end" font-size="18.4" textLength="22.1" lengthAdjust="spacingAndGlyphs">lys</text>
<text transform="translate(618.6 810.0) rotate(-45)" text-anchor="end" font-size="18.4" textLength="23.6" lengthAdjust="spacingAndGlyphs">his</text>
<text transform="translate(653.3 810.7) rotate(-45)" text-anchor="end" font-size="18.4" textLength="36.4" lengthAdjust="spacingAndGlyphs">Tryp</text>
<text transform="translate(689.4 810.0) rotate(-45)" text-anchor="end" font-size="18.4" textLength="26.8" lengthAdjust="spacingAndGlyphs">arg</text>
<text transform="translate(724.3 810.5) rotate(-45)" text-anchor="end" font-size="18.4" textLength="28.2" lengthAdjust="spacingAndGlyphs">pro</text></g>
<g id="panel-d"><text x="82.0" y="1148.8" text-anchor="end" font-size="18.4" textLength="10.2" lengthAdjust="spacingAndGlyphs">0</text>
<text x="82.0" y="1113.3" text-anchor="end" font-size="18.4" textLength="20.4" lengthAdjust="spacingAndGlyphs">50</text>
<text x="82.0" y="1077.7" text-anchor="end" font-size="18.4" textLength="30.6" lengthAdjust="spacingAndGlyphs">100</text>
<text x="82.0" y="1042.2" text-anchor="end" font-size="18.4" textLength="30.6" lengthAdjust="spacingAndGlyphs">150</text>
<text x="82.0" y="1006.6" text-anchor="end" font-size="18.4" textLength="30.6" lengthAdjust="spacingAndGlyphs">200</text>
<text x="82.0" y="971.1" text-anchor="end" font-size="18.4" textLength="30.6" lengthAdjust="spacingAndGlyphs">250</text>
<text x="82.0" y="935.6" text-anchor="end" font-size="18.4" textLength="30.6" lengthAdjust="spacingAndGlyphs">300</text>
<text x="82.0" y="900.0" text-anchor="end" font-size="18.4" textLength="30.6" lengthAdjust="spacingAndGlyphs">350</text>
<text x="106.0" y="895.0" font-size="21.5" font-weight="bold">d</text>
<rect x="597.2" y="890.0" width="10.9" height="10.9" fill="#a6a6a6" stroke="#000" stroke-width="1.4"/>
<text x="612.3" y="901.2" font-size="17.3" textLength="31.3" lengthAdjust="spacingAndGlyphs">CRF</text>
<rect x="657.2" y="890.0" width="10.9" height="10.9" fill="#fff" stroke="#000" stroke-width="1.4"/>
<g fill="#000"><rect x="659.8" y="892.9" width="1.9" height="1.9"/><rect x="663.3" y="896.7" width="1.9" height="1.9"/><rect x="666.6" y="889.6" width="1.9" height="1.9"/><rect x="656.4" y="896.7" width="1.9" height="1.9"/></g>
<text x="673.8" y="901.2" font-size="17.3" textLength="42.2" lengthAdjust="spacingAndGlyphs">WLM</text>
<rect x="110.20" y="1125.40" width="8.2" height="16.80" fill="#a6a6a6" stroke="#000" stroke-width="1.7"/>
<rect x="120.00" y="1112.10" width="8.2" height="30.10" fill="url(#dp-d)" stroke="#000" stroke-width="1.7"/>
<path d="M114.30 1122.40V1128.40M109.20 1122.40h10.2M109.20 1128.40h10.2" stroke="#000" stroke-width="1.4" fill="none"/>
<path d="M124.10 1110.30V1113.90M119.00 1110.30h10.2M119.00 1113.90h10.2" stroke="#000" stroke-width="1.4" fill="none"/>
<rect x="146.19" y="1008.20" width="8.2" height="134.00" fill="#a6a6a6" stroke="#000" stroke-width="1.7"/>
<rect x="155.99" y="1132.10" width="8.2" height="10.10" fill="url(#dp-d)" stroke="#000" stroke-width="1.7"/>
<path d="M150.29 1005.00V1011.40M145.19 1005.00h10.2M145.19 1011.40h10.2" stroke="#000" stroke-width="1.4" fill="none"/>
<path d="M160.09 1128.00V1136.20M154.99 1128.00h10.2M154.99 1136.20h10.2" stroke="#000" stroke-width="1.4" fill="none"/>
<rect x="182.18" y="1116.10" width="8.2" height="26.10" fill="#a6a6a6" stroke="#000" stroke-width="1.7"/>
<rect x="191.98" y="1123.40" width="8.2" height="18.80" fill="url(#dp-d)" stroke="#000" stroke-width="1.7"/>
<path d="M186.28 1114.60V1117.60M181.18 1114.60h10.2M181.18 1117.60h10.2" stroke="#000" stroke-width="1.4" fill="none"/>
<path d="M196.08 1118.70V1128.10M190.98 1118.70h10.2M190.98 1128.10h10.2" stroke="#000" stroke-width="1.4" fill="none"/>
<rect x="218.17" y="1070.80" width="8.2" height="71.40" fill="#a6a6a6" stroke="#000" stroke-width="1.7"/>
<rect x="227.97" y="1093.10" width="8.2" height="49.10" fill="url(#dp-d)" stroke="#000" stroke-width="1.7"/>
<path d="M222.27 1063.80V1077.80M217.17 1063.80h10.2M217.17 1077.80h10.2" stroke="#000" stroke-width="1.4" fill="none"/>
<path d="M232.07 1085.00V1101.20M226.97 1085.00h10.2M226.97 1101.20h10.2" stroke="#000" stroke-width="1.4" fill="none"/>
<rect x="254.16" y="1064.20" width="8.2" height="78.00" fill="#a6a6a6" stroke="#000" stroke-width="1.7"/>
<rect x="263.96" y="1096.50" width="8.2" height="45.70" fill="url(#dp-d)" stroke="#000" stroke-width="1.7"/>
<path d="M258.26 1059.20V1069.20M253.16 1059.20h10.2M253.16 1069.20h10.2" stroke="#000" stroke-width="1.4" fill="none"/>
<path d="M268.06 1093.10V1099.90M262.96 1093.10h10.2M262.96 1099.90h10.2" stroke="#000" stroke-width="1.4" fill="none"/>
<rect x="290.15" y="1014.90" width="8.2" height="127.30" fill="#a6a6a6" stroke="#000" stroke-width="1.7"/>
<rect x="299.95" y="1040.90" width="8.2" height="101.30" fill="url(#dp-d)" stroke="#000" stroke-width="1.7"/>
<path d="M294.25 1013.10V1016.70M289.15 1013.10h10.2M289.15 1016.70h10.2" stroke="#000" stroke-width="1.4" fill="none"/>
<path d="M304.05 1036.90V1044.90M298.95 1036.90h10.2M298.95 1044.90h10.2" stroke="#000" stroke-width="1.4" fill="none"/>
<rect x="326.14" y="998.90" width="8.2" height="143.30" fill="#a6a6a6" stroke="#000" stroke-width="1.7"/>
<rect x="335.94" y="1038.50" width="8.2" height="103.70" fill="url(#dp-d)" stroke="#000" stroke-width="1.7"/>
<path d="M330.24 986.60V1011.20M325.14 986.60h10.2M325.14 1011.20h10.2" stroke="#000" stroke-width="1.4" fill="none"/>
<path d="M340.04 1034.30V1042.70M334.94 1034.30h10.2M334.94 1042.70h10.2" stroke="#000" stroke-width="1.4" fill="none"/>
<rect x="362.13" y="1007.60" width="8.2" height="134.60" fill="#a6a6a6" stroke="#000" stroke-width="1.7"/>
<rect x="371.93" y="1034.20" width="8.2" height="108.00" fill="url(#dp-d)" stroke="#000" stroke-width="1.7"/>
<path d="M366.23 1002.60V1012.60M361.13 1002.60h10.2M361.13 1012.60h10.2" stroke="#000" stroke-width="1.4" fill="none"/>
<path d="M376.03 1025.90V1042.50M370.93 1025.90h10.2M370.93 1042.50h10.2" stroke="#000" stroke-width="1.4" fill="none"/>
<rect x="398.12" y="1054.80" width="8.2" height="87.40" fill="#a6a6a6" stroke="#000" stroke-width="1.7"/>
<rect x="407.92" y="1070.50" width="8.2" height="71.70" fill="url(#dp-d)" stroke="#000" stroke-width="1.7"/>
<path d="M402.22 1053.10V1056.50M397.12 1053.10h10.2M397.12 1056.50h10.2" stroke="#000" stroke-width="1.4" fill="none"/>
<path d="M412.02 1058.50V1082.50M406.92 1058.50h10.2M406.92 1082.50h10.2" stroke="#000" stroke-width="1.4" fill="none"/>
<rect x="434.11" y="1077.50" width="8.2" height="64.70" fill="#a6a6a6" stroke="#000" stroke-width="1.7"/>
<rect x="443.91" y="1093.10" width="8.2" height="49.10" fill="url(#dp-d)" stroke="#000" stroke-width="1.7"/>
<path d="M438.21 1069.50V1085.50M433.11 1069.50h10.2M433.11 1085.50h10.2" stroke="#000" stroke-width="1.4" fill="none"/>
<path d="M448.01 1084.50V1101.70M442.91 1084.50h10.2M442.91 1101.70h10.2" stroke="#000" stroke-width="1.4" fill="none"/>
<rect x="470.10" y="1008.60" width="8.2" height="133.60" fill="#a6a6a6" stroke="#000" stroke-width="1.7"/>
<rect x="479.90" y="1051.50" width="8.2" height="90.70" fill="url(#dp-d)" stroke="#000" stroke-width="1.7"/>
<path d="M474.20 998.30V1018.90M469.10 998.30h10.2M469.10 1018.90h10.2" stroke="#000" stroke-width="1.4" fill="none"/>
<path d="M484.00 1045.90V1057.10M478.90 1045.90h10.2M478.90 1057.10h10.2" stroke="#000" stroke-width="1.4" fill="none"/>
<rect x="506.09" y="1111.40" width="8.2" height="30.80" fill="#a6a6a6" stroke="#000" stroke-width="1.7"/>
<rect x="515.89" y="1125.80" width="8.2" height="16.40" fill="url(#dp-d)" stroke="#000" stroke-width="1.7"/>
<path d="M510.19 1109.60V1113.20M505.09 1109.60h10.2M505.09 1113.20h10.2" stroke="#000" stroke-width="1.4" fill="none"/>
<path d="M519.99 1123.80V1127.80M514.89 1123.80h10.2M514.89 1127.80h10.2" stroke="#000" stroke-width="1.4" fill="none"/>
<rect x="542.08" y="1054.80" width="8.2" height="87.40" fill="#a6a6a6" stroke="#000" stroke-width="1.7"/>
<rect x="551.88" y="1094.80" width="8.2" height="47.40" fill="url(#dp-d)" stroke="#000" stroke-width="1.7"/>
<path d="M546.18 1052.60V1057.00M541.08 1052.60h10.2M541.08 1057.00h10.2" stroke="#000" stroke-width="1.4" fill="none"/>
<path d="M555.98 1089.80V1099.80M550.88 1089.80h10.2M550.88 1099.80h10.2" stroke="#000" stroke-width="1.4" fill="none"/>
<rect x="578.07" y="1066.80" width="8.2" height="75.40" fill="#a6a6a6" stroke="#000" stroke-width="1.7"/>
<rect x="587.87" y="1082.40" width="8.2" height="59.80" fill="url(#dp-d)" stroke="#000" stroke-width="1.7"/>
<path d="M582.17 1061.00V1072.60M577.07 1061.00h10.2M577.07 1072.60h10.2" stroke="#000" stroke-width="1.4" fill="none"/>
<path d="M591.97 1075.70V1089.10M586.87 1075.70h10.2M586.87 1089.10h10.2" stroke="#000" stroke-width="1.4" fill="none"/>
<rect x="614.06" y="1114.00" width="8.2" height="28.20" fill="#a6a6a6" stroke="#000" stroke-width="1.7"/>
<rect x="623.86" y="1123.00" width="8.2" height="19.20" fill="url(#dp-d)" stroke="#000" stroke-width="1.7"/>
<path d="M618.16 1112.50V1115.50M613.06 1112.50h10.2M613.06 1115.50h10.2" stroke="#000" stroke-width="1.4" fill="none"/>
<path d="M627.96 1121.00V1125.00M622.86 1121.00h10.2M622.86 1125.00h10.2" stroke="#000" stroke-width="1.4" fill="none"/>
<line x1="649.2" x2="669.2" y1="1140.5" y2="1140.5" stroke="#111" stroke-width="1.8"/>
<rect x="686.04" y="1084.00" width="8.2" height="58.20" fill="#a6a6a6" stroke="#000" stroke-width="1.7"/>
<rect x="695.84" y="1098.70" width="8.2" height="43.50" fill="url(#dp-d)" stroke="#000" stroke-width="1.7"/>
<path d="M690.14 1077.50V1090.50M685.04 1077.50h10.2M685.04 1090.50h10.2" stroke="#000" stroke-width="1.4" fill="none"/>
<path d="M699.94 1094.70V1102.70M694.84 1094.70h10.2M694.84 1102.70h10.2" stroke="#000" stroke-width="1.4" fill="none"/>
<rect x="722.03" y="1058.70" width="8.2" height="83.50" fill="#a6a6a6" stroke="#000" stroke-width="1.7"/>
<rect x="731.83" y="1075.70" width="8.2" height="66.50" fill="url(#dp-d)" stroke="#000" stroke-width="1.7"/>
<path d="M726.13 1048.70V1068.70M721.03 1048.70h10.2M721.03 1068.70h10.2" stroke="#000" stroke-width="1.4" fill="none"/>
<path d="M735.93 1070.70V1080.70M730.83 1070.70h10.2M730.83 1080.70h10.2" stroke="#000" stroke-width="1.4" fill="none"/>
<line x1="101.4" x2="750.4" y1="1142.2" y2="1142.2" stroke="#d2d2d2" stroke-width="1.5"/>
<text transform="translate(124.0 1169.7) rotate(-45)" text-anchor="end" font-size="18.4" textLength="26.1" lengthAdjust="spacingAndGlyphs">cys</text>
<text transform="translate(160.0 1169.7) rotate(-45)" text-anchor="end" font-size="18.4" textLength="28.7" lengthAdjust="spacingAndGlyphs">asp</text>
<text transform="translate(196.0 1169.7) rotate(-45)" text-anchor="end" font-size="18.4" textLength="33.6" lengthAdjust="spacingAndGlyphs">met</text>
<text transform="translate(232.0 1169.7) rotate(-45)" text-anchor="end" font-size="18.4" textLength="24.9" lengthAdjust="spacingAndGlyphs">thr</text>
<text transform="translate(268.0 1169.7) rotate(-45)" text-anchor="end" font-size="18.4" textLength="25.5" lengthAdjust="spacingAndGlyphs">ser</text>
<text transform="translate(302.8 1170.9) rotate(-45)" text-anchor="end" font-size="18.4" textLength="23.5" lengthAdjust="spacingAndGlyphs">glu</text>
<text transform="translate(340.0 1169.7) rotate(-45)" text-anchor="end" font-size="18.4" textLength="23.8" lengthAdjust="spacingAndGlyphs">gly</text>
<text transform="translate(374.6 1171.1) rotate(-45)" text-anchor="end" font-size="18.4" textLength="22.5" lengthAdjust="spacingAndGlyphs">ala</text>
<text transform="translate(409.8 1171.8) rotate(-45)" text-anchor="end" font-size="18.4" textLength="20.9" lengthAdjust="spacingAndGlyphs">val</text>
<text transform="translate(447.5 1170.2) rotate(-45)" text-anchor="end" font-size="18.4" textLength="19.0" lengthAdjust="spacingAndGlyphs">ile</text>
<text transform="translate(483.2 1170.4) rotate(-45)" text-anchor="end" font-size="18.4" textLength="24.8" lengthAdjust="spacingAndGlyphs">leu</text>
<text transform="translate(519.9 1169.7) rotate(-45)" text-anchor="end" font-size="18.4" textLength="23.4" lengthAdjust="spacingAndGlyphs">tyr</text>
<text transform="translate(555.9 1169.7) rotate(-45)" text-anchor="end" font-size="18.4" textLength="31.9" lengthAdjust="spacingAndGlyphs">phe</text>
<text transform="translate(591.9 1169.7) rotate(-45)" text-anchor="end" font-size="18.4" textLength="22.1" lengthAdjust="spacingAndGlyphs">lys</text>
<text transform="translate(627.9 1169.7) rotate(-45)" text-anchor="end" font-size="18.4" textLength="23.6" lengthAdjust="spacingAndGlyphs">his</text>
<text transform="translate(663.2 1170.4) rotate(-45)" text-anchor="end" font-size="18.4" textLength="36.4" lengthAdjust="spacingAndGlyphs">Tryp</text>
<text transform="translate(699.9 1169.7) rotate(-45)" text-anchor="end" font-size="18.4" textLength="26.8" lengthAdjust="spacingAndGlyphs">arg</text>
<text transform="translate(735.4 1170.2) rotate(-45)" text-anchor="end" font-size="18.4" textLength="28.2" lengthAdjust="spacingAndGlyphs">pro</text></g>
<text transform="translate(17.2 778.3) rotate(-90)" font-family="'Liberation Serif', serif" font-size="21" textLength="540" lengthAdjust="spacingAndGlyphs">Composition of amino acids (µmole per g freeze dried material)</text>
</svg>
</body></html>
